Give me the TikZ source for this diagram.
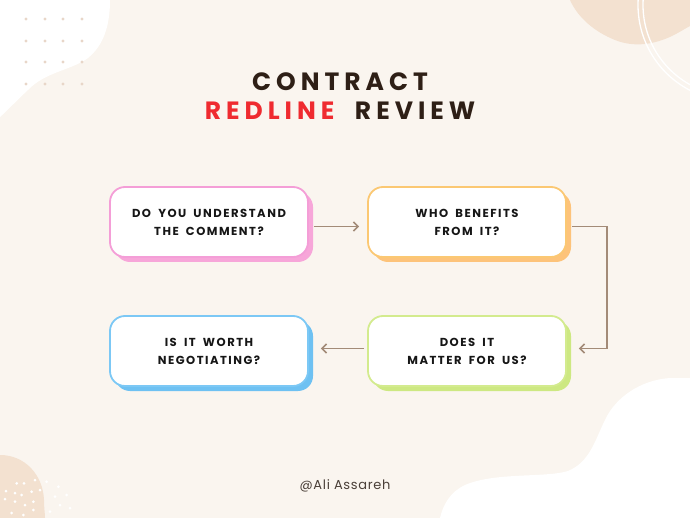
\documentclass[tikz,border=0pt]{standalone}
\usepackage{fontspec}
\setmainfont{Poppins}
\newfontfamily\headfont[LetterSpace=20,WordSpace=2]{Poppins}
\newfontfamily\cardfont[LetterSpace=13,WordSpace=1.8]{Poppins}
\newfontfamily\creditfont[LetterSpace=5]{Poppins}
\usetikzlibrary{shadows,arrows.meta}

\definecolor{paper}{HTML}{FAF5EF}
\definecolor{peach}{HTML}{F3E1D0}
\definecolor{dotc}{HTML}{E8D6C8}
\definecolor{ink}{HTML}{161616}
\definecolor{headc}{HTML}{2E1F16}
\definecolor{redline}{HTML}{EF2B30}
\definecolor{flowc}{HTML}{A38B78}
\definecolor{creditc}{HTML}{4B4039}
\definecolor{pinkline}{HTML}{F49ED7}
\definecolor{pinkshade}{HTML}{F7A6D9}
\definecolor{orangeline}{HTML}{FBC873}
\definecolor{orangeshade}{HTML}{FDC37A}
\definecolor{greenline}{HTML}{D3EB8E}
\definecolor{greenshade}{HTML}{CDE882}
\definecolor{blueline}{HTML}{7CC8F5}
\definecolor{blueshade}{HTML}{6EC1F2}

\begin{document}
\begin{tikzpicture}[x=1pt,y=-1pt,>={Straight Barb[length=4.5pt,width=9pt]},
    card/.style 2 args={draw=#1,fill=white,line width=1.8pt,
        rounded corners=15pt,minimum width=198pt,minimum height=70pt,
        inner sep=0pt,align=center,text=ink,
        font=\cardfont\bfseries\fontsize{11.6}{18}\selectfont,
        drop shadow={shadow xshift=5pt,shadow yshift=-5pt,
            fill=#2,opacity=1}},
    flow/.style={->,draw=flowc,line width=1.6pt},
    headtext/.style={anchor=base,text=headc,
        font=\headfont\bfseries\fontsize{25}{29}\selectfont},
    credit/.style={anchor=base,text=creditc,
        font=\creditfont\fontsize{13}{15}\selectfont}]
    \useasboundingbox (0,0) rectangle (690,518);
    \fill[paper] (0,0) rectangle (690,518);
    \clip (0,0) rectangle (690,518);

    % Hoja blanca arriba a la izquierda, con su trama de puntos.
    \fill[white] (0,0) -- (110,0)
        .. controls (110,25) and (104,45) .. (88,58)
        .. controls (72,70) and (45,72) .. (28,90)
        .. controls (15,102) and (8,110) .. (0,117) -- cycle;
    \foreach \x in {26,45,63,82}
        \foreach \y in {19,41,62,84}
            \fill[dotc] (\x,\y) circle (1.6);

    % Mancha durazno y aros blancos arriba a la derecha.
    \fill[peach] (570,0)
        .. controls (578,18) and (595,32) .. (615,40)
        .. controls (635,48) and (655,44) .. (672,36)
        .. controls (680,32) and (686,28) .. (690,26) -- (690,0) -- cycle;
    \draw[white,line width=1.3] (734,5) circle (91);
    \draw[white,line width=1.3] (734,5) circle (96);

    % Mancha durazno abajo a la izquierda, con puntos blancos.
    \fill[peach] (0,455)
        .. controls (25,455) and (43,475) .. (44,500)
        .. controls (44,508) and (45,514) .. (45,518) -- (0,518) -- cycle;
    \foreach \p in {(16.7,483.3),(24,483.3),(35,480),(6,491),(15,493),
        (21.7,495),(31.7,491.7),(40,490),(5,499),(15,501.7),(25,505),
        (33.3,501.7),(33.3,510),(11.7,513),(23.3,515),(46.7,481.7),
        (58.3,486.7),(55,496.7),(66.7,495),(60,505),(70,508),(50,511.7)}
        \fill[white] \p circle (1.5);

    % Hoja blanca abajo a la derecha.
    \fill[white] (690,378) -- (670,378)
        .. controls (640,380) and (615,398) .. (605,420)
        .. controls (595,440) and (590,462) .. (568,471)
        .. controls (545,478) and (495,472) .. (465,485)
        .. controls (450,492) and (443,505) .. (440,518)
        -- (690,518) -- cycle;

    % Titulo.
    \node[headtext] (head1) at (340,91) {CONTRACT};
    \node[headtext] (head2) at (340,120)
        {\textcolor{redline}{REDLINE} REVIEW};

    % Las cuatro preguntas.
    \node[card={pinkline}{pinkshade}] (q1) at (209,222)
        {DO YOU UNDERSTAND\\THE COMMENT?};
    \node[card={orangeline}{orangeshade}] (q2) at (467,222)
        {WHO BENEFITS\\FROM IT?};
    \node[card={greenline}{greenshade}] (q3) at (467,351)
        {DOES IT\\MATTER FOR US?};
    \node[card={blueline}{blueshade}] (q4) at (209,351)
        {IS IT WORTH\\NEGOTIATING?};

    \draw[flow] ([xshift=5pt,yshift=-4.5pt]q1.east)
        -- ([xshift=-8pt,yshift=-4.5pt]q2.west);
    \draw[flow] ([xshift=5pt,yshift=-4.5pt]q2.east) -- ++(35,0)
        |- ([xshift=12pt,yshift=2.5pt]q3.east);
    \draw[flow] ([xshift=-3pt,yshift=2.5pt]q3.west)
        -- ([xshift=12pt,yshift=2.5pt]q4.east);

    \node[credit] (author) at (345,489) {@Ali Assareh};
\end{tikzpicture}
\end{document}
